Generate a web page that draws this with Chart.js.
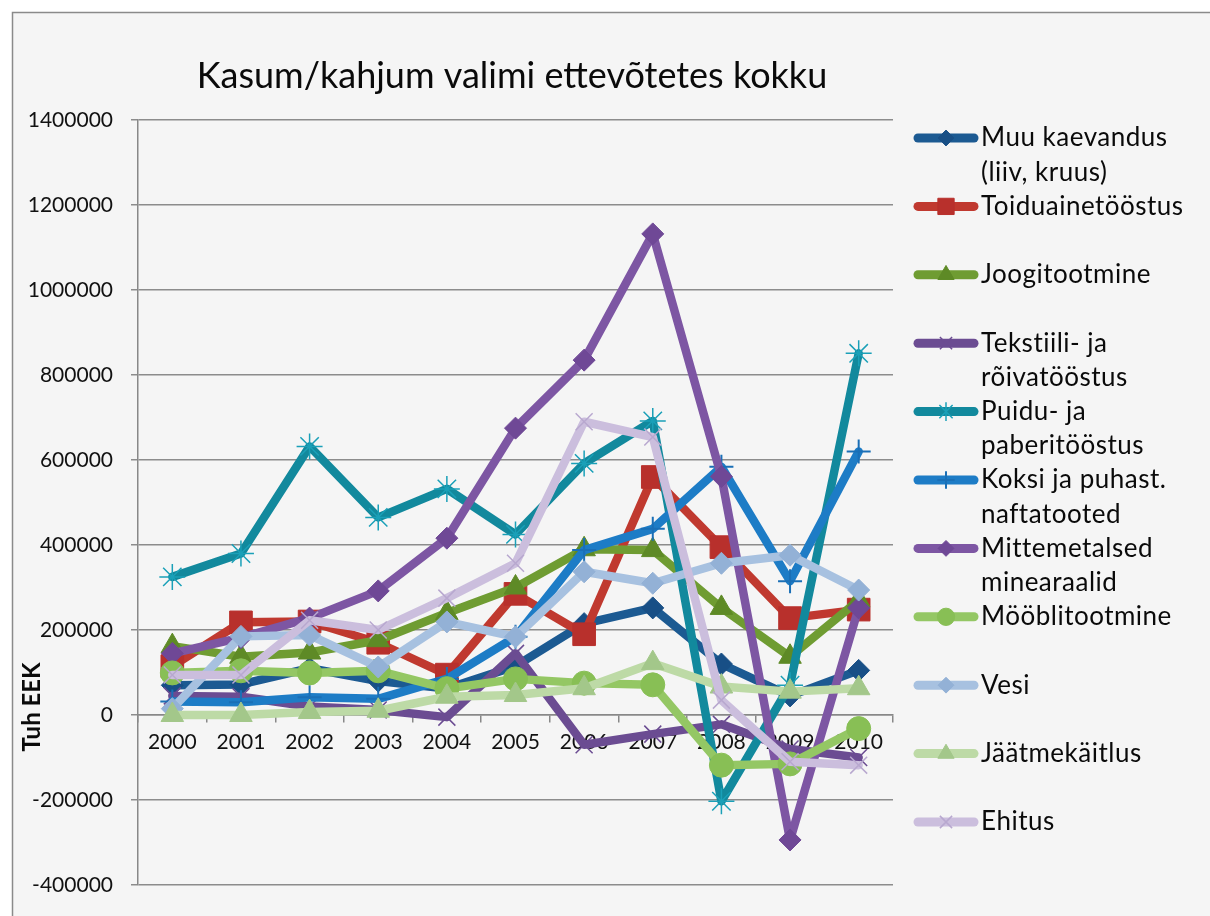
<!DOCTYPE html>
<html>
<head>
<meta charset="utf-8">
<script src="https://cdn.jsdelivr.net/npm/chart.js@4.4.1/dist/chart.umd.min.js"></script>
<style>
html,body{margin:0;padding:0;background:#fff;}
#wrap{width:1210px;height:916px;position:relative;}
</style>
</head>
<body>
<div id="wrap"><canvas id="c" width="1210" height="916"></canvas></div>
<script>
// ---- data ----
const chartTitle = 'Kasum/kahjum valimi ettevõtetes kokku';
const yAxisTitle = 'Tuh EEK';
const years = ['2000','2001','2002','2003','2004','2005','2006','2007','2008','2009','2010'];
const yTicks = [-400000, -200000, 0, 200000, 400000, 600000, 800000, 1000000, 1200000, 1400000];

const muuKaevandus   = [70000, 72000, 110000, 80000, 62000, 115000, 215000, 252000, 120000, 45000, 105000];
const toiduaine      = [115000, 218000, 220000, 170000, 95000, 285000, 190000, 560000, 395000, 228000, 248000];
const joogitootmine  = [162000, 137000, 147000, 176000, 240000, 300000, 390000, 388000, 252000, 137000, 270000];
const tekstiili      = [45000, 43000, 20000, 12000, -5000, 145000, -70000, -45000, -22000, -80000, -100000];
const puidu          = [325000, 380000, 632000, 465000, 532000, 425000, 592000, 692000, -203000, 70000, 851000];
const koksi          = [32000, 30000, 42000, 38000, 85000, 184000, 388000, 438000, 584000, 315000, 620000];
const mittemetalsed  = [145000, 182000, 228000, 292000, 416000, 675000, 835000, 1132000, 561000, -294000, 252000];
const mooblitootmine = [99000, 104000, 99000, 104000, 62000, 85000, 75000, 71000, -118000, -115000, -32000];
const vesi           = [15000, 185000, 188000, 113000, 219000, 184000, 337000, 310000, 357000, 376000, 294000];
const jaatmekaitlus  = [0, 0, 7000, 10000, 43000, 47000, 63000, 122000, 67000, 55000, 63000];
const ehitus         = [94000, 94000, 223000, 200000, 275000, 357000, 690000, 654000, 35000, -110000, -118000];

const seriesValues = [muuKaevandus, toiduaine, joogitootmine, tekstiili, puidu, koksi,
                      mittemetalsed, mooblitootmine, vesi, jaatmekaitlus, ehitus];
const seriesLabels = [
  ['Muu kaevandus', '(liiv, kruus)'],
  ['Toiduainetööstus'],
  ['Joogitootmine'],
  ['Tekstiili- ja', 'rõivatööstus'],
  ['Puidu- ja', 'paberitööstus'],
  ['Koksi ja puhast.', 'naftatooted'],
  ['Mittemetalsed', 'minearaalid'],
  ['Mööblitootmine'],
  ['Vesi'],
  ['Jäätmekäitlus'],
  ['Ehitus']
];

// ---- styles ----
const lineColors   = ['#1c5a92','#c0392f','#6f9c32','#6b4c92','#12899d','#1d7cc6','#7d56a3','#94c764','#a7c1e0','#bddaa6','#cbbedd'];
const markerFill   = ['#184f86','#b8302c','#5e8a26','#6b4c92','#1aa0b8','#1a6fb6','#6f4896','#88bf55','#93b1d6','#a3c78a','#b8a8cf'];
const markerStyles = ['rectRot','rect','triangle','crossRot','star','cross','rectRot','circle','rectRot','triangle','crossRot'];
const markerRadius = [11, 16, 13, 12, 13, 12, 11, 12, 11, 13, 12];
const markerBorderW= [1, 1, 1, 1.5, 1.5, 2, 1, 1, 1, 1, 1.5];

function drawMarker(ctx, style, x, y, r, fill, stroke, bw) {
  ctx.save();
  ctx.fillStyle = fill; ctx.strokeStyle = stroke; ctx.lineWidth = bw;
  ctx.beginPath();
  const c = Math.cos(Math.PI/4) * r;
  switch (style) {
    case 'rectRot':
      ctx.moveTo(x, y - r); ctx.lineTo(x + r, y); ctx.lineTo(x, y + r); ctx.lineTo(x - r, y);
      ctx.closePath(); ctx.fill(); ctx.stroke(); break;
    case 'rect': {
      const s = r / Math.SQRT2;
      ctx.rect(x - s, y - s, 2*s, 2*s); ctx.fill(); ctx.stroke(); break;
    }
    case 'triangle': {
      let a = 0;
      ctx.moveTo(x + Math.sin(a)*r, y - Math.cos(a)*r); a += 2*Math.PI/3;
      ctx.lineTo(x + Math.sin(a)*r, y - Math.cos(a)*r); a += 2*Math.PI/3;
      ctx.lineTo(x + Math.sin(a)*r, y - Math.cos(a)*r);
      ctx.closePath(); ctx.fill(); ctx.stroke(); break;
    }
    case 'circle':
      ctx.arc(x, y, r, 0, Math.PI*2); ctx.fill(); ctx.stroke(); break;
    case 'crossRot':
      ctx.moveTo(x - c, y - c); ctx.lineTo(x + c, y + c);
      ctx.moveTo(x - c, y + c); ctx.lineTo(x + c, y - c); ctx.stroke(); break;
    case 'cross':
      ctx.moveTo(x, y - r); ctx.lineTo(x, y + r);
      ctx.moveTo(x - r, y); ctx.lineTo(x + r, y); ctx.stroke(); break;
    case 'star':
      ctx.moveTo(x - c, y - c); ctx.lineTo(x + c, y + c);
      ctx.moveTo(x - c, y + c); ctx.lineTo(x + c, y - c);
      ctx.moveTo(x, y - r); ctx.lineTo(x, y + r); ctx.stroke(); break;
  }
  ctx.restore();
}

const framePlugin = {
  id: 'frame',
  beforeDraw(chart) {
    const ctx = chart.ctx;
    ctx.save();
    ctx.fillStyle = '#ffffff'; ctx.fillRect(0, 0, chart.width, chart.height);
    ctx.fillStyle = '#f5f5f5'; ctx.fillRect(12, 12, chart.width, chart.height);
    ctx.strokeStyle = '#8a8a8a'; ctx.lineWidth = 1.5;
    ctx.strokeRect(12.5, 12.5, chart.width + 20, chart.height + 20);
    ctx.restore();
  },
  afterDraw(chart) {
    const ctx = chart.ctx;
    ctx.save();
    // title
    ctx.fillStyle = '#0a0a0a';
    ctx.font = '36px Lato';
    ctx.textAlign = 'center'; ctx.textBaseline = 'middle';
    ctx.fillText(chartTitle, 512, 76);
    // y axis title
    ctx.save();
    ctx.translate(32, 707); ctx.rotate(-Math.PI/2);
    ctx.font = 'bold 24px Lato';
    ctx.fillText(yAxisTitle, 0, 0);
    ctx.restore();
    // legend
    const top = 138, gap = 68.4, lineGap = 34.5;
    ctx.textAlign = 'left'; ctx.textBaseline = 'middle';
    ctx.font = '26px Lato';
    try { ctx.letterSpacing = '0.5px'; } catch(e) {}
    seriesLabels.forEach((lines, i) => {
      const y = top + i * gap;
      ctx.save();
      ctx.strokeStyle = lineColors[i]; ctx.lineWidth = 9; ctx.lineCap = 'round';
      ctx.beginPath(); ctx.moveTo(918, y); ctx.lineTo(974, y); ctx.stroke();
      ctx.restore();
      drawMarker(ctx, markerStyles[i], 946, y, markerRadius[i] * 0.72, markerFill[i], markerFill[i], markerBorderW[i]);
      ctx.fillStyle = '#0a0a0a';
      lines.forEach((t, k) => ctx.fillText(t, 981, y + k * lineGap));
    });
    ctx.restore();
  }
};

const datasets = seriesValues.map((vals, i) => ({
  label: seriesLabels[i].join(' '),
  data: vals,
  borderColor: lineColors[i],
  backgroundColor: markerFill[i],
  pointBackgroundColor: markerFill[i],
  pointBorderColor: markerFill[i],
  pointStyle: markerStyles[i],
  pointRadius: markerRadius[i],
  pointBorderWidth: markerBorderW[i],
  borderWidth: 8.5,
  borderJoinStyle: 'round',
  borderCapStyle: 'round',
  tension: 0,
  fill: false,
  order: 20 - i
}));

new Chart(document.getElementById('c'), {
  type: 'line',
  data: { labels: years, datasets },
  plugins: [framePlugin],
  options: {
    responsive: false,
    animation: false,
    events: [],
    layout: { padding: { left: 0, right: 317, top: 120, bottom: 31 } },
    plugins: { legend: { display: false }, tooltip: { enabled: false }, title: { display: false } },
    scales: {
      x: {
        type: 'category',
        position: { y: 0 },
        offset: true,
        grid: { display: true, offset: true, drawOnChartArea: false, drawTicks: true, tickLength: 7, color: '#888888', lineWidth: 1.5 },
        border: { display: true, color: '#888888', width: 1.5 },
        ticks: { font: { family: 'Lato', size: 21 }, color: '#111111', padding: 8, maxRotation: 0, autoSkip: false },
        afterFit(s) { s.height = 0; }
      },
      y: {
        min: yTicks[0],
        max: yTicks[yTicks.length - 1],
        afterBuildTicks(s) { s.ticks = yTicks.map(v => ({ value: v })); },
        ticks: { font: { family: 'Lato', size: 21 }, color: '#111111', padding: 18, callback: v => String(v) },
        grid: { color: '#8c8c8c', lineWidth: 1.5, tickLength: 7, drawTicks: true },
        border: { display: true, color: '#888888', width: 1.5 },
        afterFit(s) { s.width = 138; }
      }
    }
  }
});
</script>
</body>
</html>
